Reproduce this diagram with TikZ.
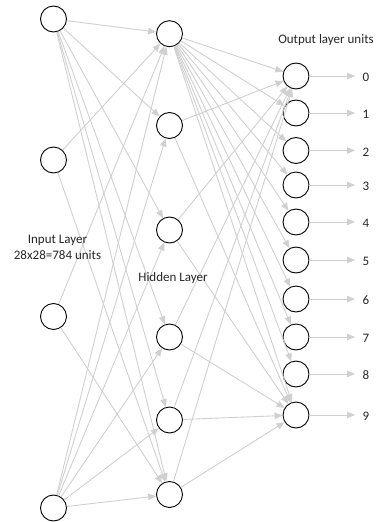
\documentclass[tikz,border=0pt]{standalone}
\usepackage{fontspec}
\setmainfont{Carlito}
\usetikzlibrary{arrows.meta}
\definecolor{edgegray}{RGB}{208,208,208}
\tikzset{
  unit/.style={circle, draw=black, line width=0.9pt, minimum size=26pt, inner sep=0pt},
  edge/.style={draw=edgegray, line width=0.9pt, -{Triangle[length=8pt,width=6.5pt]}},
  lbl/.style={font=\fontsize{13pt}{16pt}\selectfont, inner sep=0pt, text=black!85},
}
\begin{document}
\begin{tikzpicture}[x=1pt,y=-1pt]
\useasboundingbox (0,0) rectangle (378,522);
% input layer
\node[unit] (i1) at (53.5,19) {};
\node[unit] (i2) at (53.5,160) {};
\node[unit] (i3) at (53.5,316.5) {};
\node[unit] (i4) at (53.5,508) {};
% hidden layer
\node[unit] (h1) at (169.5,33.7) {};
\node[unit] (h2) at (169.5,125.5) {};
\node[unit] (h3) at (169.5,230) {};
\node[unit] (h4) at (169.5,337) {};
\node[unit] (h5) at (169.5,420) {};
\node[unit] (h6) at (169.5,494.5) {};
% output layer
\foreach \k/\y in {0/76,1/113,2/150.5,3/185,4/222,5/260,6/299,7/337,8/374,9/415}{
  \node[unit] (o\k) at (296,\y) {};
  \coordinate (a\k) at (355,\y);
  \node[lbl] (l\k) at (366,\y+1.5) {\k};
}
% input -> hidden
\foreach \h in {1,...,6}{
  \draw[edge] (i1) -- (h\h);
  \draw[edge] (i4) -- (h\h);
}
\foreach \i in {2,3}{
  \draw[edge] (i\i) -- (h1);
  \draw[edge] (i\i) -- (h6);
}
% hidden -> output
\foreach \k in {0,...,9}{
  \draw[edge] (h1) -- (o\k);
}
\foreach \h in {2,...,6}{
  \draw[edge] (h\h) -- (o0);
  \draw[edge] (h\h) -- (o9);
}
% output arrows
\foreach \k in {0,...,9}{
  \draw[edge] (o\k) -- (a\k);
}
% texts
\node[lbl] (tout) at (326,40) {Output layer units};
\node[lbl, align=center] (tin) at (57.5,247) {Input Layer\\28x28=784 units};
\node[lbl] (thid) at (173,278) {Hidden Layer};
\end{tikzpicture}
\end{document}
